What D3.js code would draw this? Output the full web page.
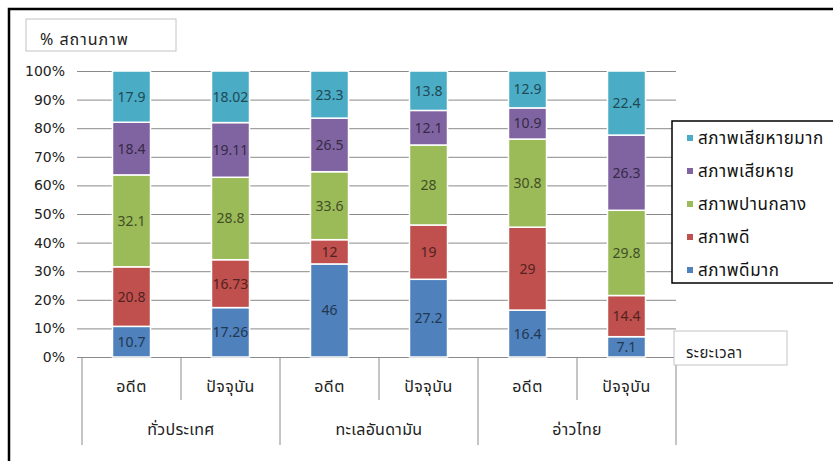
<!DOCTYPE html>
<html>
<head>
<meta charset="utf-8">
<script src="https://cdn.jsdelivr.net/npm/d3@7"></script>
<style>
  html, body { margin: 0; background: #fff; overflow: hidden; }
  svg { display: block; font-family: Tahoma, "Noto Sans Thai", "Noto Sans", "DejaVu Sans", sans-serif; }
</style>
</head>
<body>
<div id="container"></div>
<script>
// data
let periods = ["อดีต", "ปัจจุบัน", "อดีต", "ปัจจุบัน", "อดีต", "ปัจจุบัน"]
let regions = ["ทั่วประเทศ", "ทะเลอันดามัน", "อ่าวไทย"]
let seriesNames = ["สภาพดีมาก", "สภาพดี", "สภาพปานกลาง", "สภาพเสียหาย", "สภาพเสียหายมาก"]
let veryGood = [10.7, 17.26, 46, 27.2, 16.4, 7.1]
let good = [20.8, 16.73, 12, 19, 29, 14.4]
let moderate = [32.1, 28.8, 33.6, 28, 30.8, 29.8]
let damaged = [18.4, 19.11, 26.5, 12.1, 10.9, 26.3]
let veryDamaged = [17.9, 18.02, 23.3, 13.8, 12.9, 22.4]
let yTicks = [0, 0.1, 0.2, 0.3, 0.4, 0.5, 0.6, 0.7, 0.8, 0.9, 1]

let seriesValues = [veryGood, good, moderate, damaged, veryDamaged]
let colors = ["#4F81BD", "#C0504D", "#9BBB59", "#8064A2", "#4BACC6"]

let w = 833;
let h = 461;
let plotLeft = 82, plotRight = 676, plotTop = 71, plotBottom = 357;

let svg = d3.select("#container")
  .append("svg")
  .attr("width", w)
  .attr("height", h)

// outer frame: only top and left edges show in the picture
svg.append("path")
  .attr("d", "M9," + h + "V9H" + w)
  .attr("fill", "none")
  .attr("stroke", "black")
  .attr("stroke-width", 2.5)

let rows = periods.map(function(p, i) {
  let r = {key: i}
  seriesNames.forEach(function(s, j) { r[s] = seriesValues[j][i] })
  return r
})

let stack = d3.stack().keys(seriesNames).offset(d3.stackOffsetExpand)
let stacked = stack(rows)

let x = d3.scaleBand()
  .domain(d3.range(periods.length))
  .range([plotLeft, plotRight])
  .paddingInner(0.616)
  .paddingOuter(0.308)

let y = d3.scaleLinear().domain([0, 1]).range([plotBottom, plotTop])

let color = d3.scaleOrdinal().domain(seriesNames).range(colors)

// gridlines + y labels
let yAxis = d3.axisLeft(y)
  .tickValues(yTicks)
  .tickSize(0)
  .tickFormat(d3.format(".0%"))

let ya = svg.append("g")
  .attr("transform", "translate(" + (plotLeft - 5) + ",0)")
  .call(yAxis)
ya.select(".domain").remove()
ya.selectAll(".tick line")
  .attr("x1", 0)
  .attr("x2", plotRight - plotLeft + 5)
  .attr("stroke", "#8a8a8a")
ya.selectAll(".tick text")
  .attr("x", -12)
  .attr("font-size", 14)
  .attr("fill", "#222")
  .style("font-family", "Tahoma, 'DejaVu Sans', sans-serif")

// bars
let groups = svg.selectAll("g.series")
  .data(stacked)
  .enter()
  .append("g")
  .attr("class", "series")
  .attr("fill", function(d) { return color(d.key) })

groups.selectAll("rect")
  .data(function(d) { return d })
  .enter()
  .append("rect")
  .attr("x", function(d, i) { return x(i) })
  .attr("width", x.bandwidth())
  .attr("y", function(d) { return y(d[1]) })
  .attr("height", function(d) { return y(d[0]) - y(d[1]) })
  .attr("stroke", "white")
  .attr("stroke-width", 1.5)

// value labels
groups.selectAll("text")
  .data(function(d) { return d.map(function(v, i) { return {v: v, i: i, key: d.key, idx: d.index} }) })
  .enter()
  .append("text")
  .attr("x", function(d) { return x(d.i) + x.bandwidth() / 2 })
  .attr("y", function(d) { return (y(d.v[0]) + y(d.v[1])) / 2 + 5 })
  .attr("text-anchor", "middle")
  .attr("font-size", 14)
  .attr("fill", function(d) { return d3.color(color(d.key)).darker(2.4) })
  .text(function(d) { return seriesValues[d.idx][d.i] })

// category axis lines
let step = x.step()
let catLines = d3.range(periods.length + 1)
svg.selectAll("line.cat")
  .data(catLines)
  .enter()
  .append("line")
  .attr("class", "cat")
  .attr("x1", function(d) { return plotLeft + d * step })
  .attr("x2", function(d) { return plotLeft + d * step })
  .attr("y1", plotBottom)
  .attr("y2", function(d) { return d % 2 == 0 ? 445 : 400 })
  .attr("stroke", "#8a8a8a")

svg.selectAll("text.period")
  .data(periods)
  .enter()
  .append("text")
  .attr("class", "period")
  .attr("x", function(d, i) { return x(i) + x.bandwidth() / 2 })
  .attr("y", 392)
  .attr("text-anchor", "middle")
  .attr("font-size", 16)
  .attr("letter-spacing", 0.5)
  .attr("fill", "#222")
  .text(function(d) { return d })

svg.selectAll("text.region")
  .data(regions)
  .enter()
  .append("text")
  .attr("class", "region")
  .attr("x", function(d, i) { return plotLeft + (i * 2 + 1) * step })
  .attr("y", 435)
  .attr("text-anchor", "middle")
  .attr("font-size", 16)
  .attr("letter-spacing", 0.3)
  .attr("fill", "#222")
  .text(function(d) { return d })

// axis title boxes
svg.append("rect")
  .attr("x", 26).attr("y", 19).attr("width", 150).attr("height", 32)
  .attr("fill", "white").attr("stroke", "#c4c4c4")
svg.append("text")
  .attr("x", 40).attr("y", 45)
  .attr("font-size", 16).attr("letter-spacing", 1).attr("fill", "#222")
  .text("% สถานภาพ")

svg.append("rect")
  .attr("x", 674).attr("y", 331).attr("width", 113).attr("height", 34)
  .attr("fill", "white").attr("stroke", "#c4c4c4")
svg.append("text")
  .attr("x", 686).attr("y", 358)
  .attr("font-size", 15).attr("letter-spacing", 0.5).attr("fill", "#222")
  .text("ระยะเวลา")

// legend (box runs past the right edge)
svg.append("path")
  .attr("d", "M" + w + ",121H672V283H" + w)
  .attr("fill", "white").attr("stroke", "black").attr("stroke-width", 1.5)

let legendItems = seriesNames.slice().reverse()
let leg = svg.selectAll("g.legend")
  .data(legendItems)
  .enter()
  .append("g")
  .attr("class", "legend")
  .attr("transform", function(d, i) { return "translate(687," + (138 + i * 33) + ")" })

leg.append("rect")
  .attr("x", 0).attr("y", -3)
  .attr("width", 6).attr("height", 6)
  .attr("fill", function(d) { return color(d) })

leg.append("text")
  .attr("x", 11).attr("y", 6)
  .attr("font-size", 17).attr("letter-spacing", 0.6).attr("fill", "#111")
  .text(function(d) { return d })
</script>
</body>
</html>
